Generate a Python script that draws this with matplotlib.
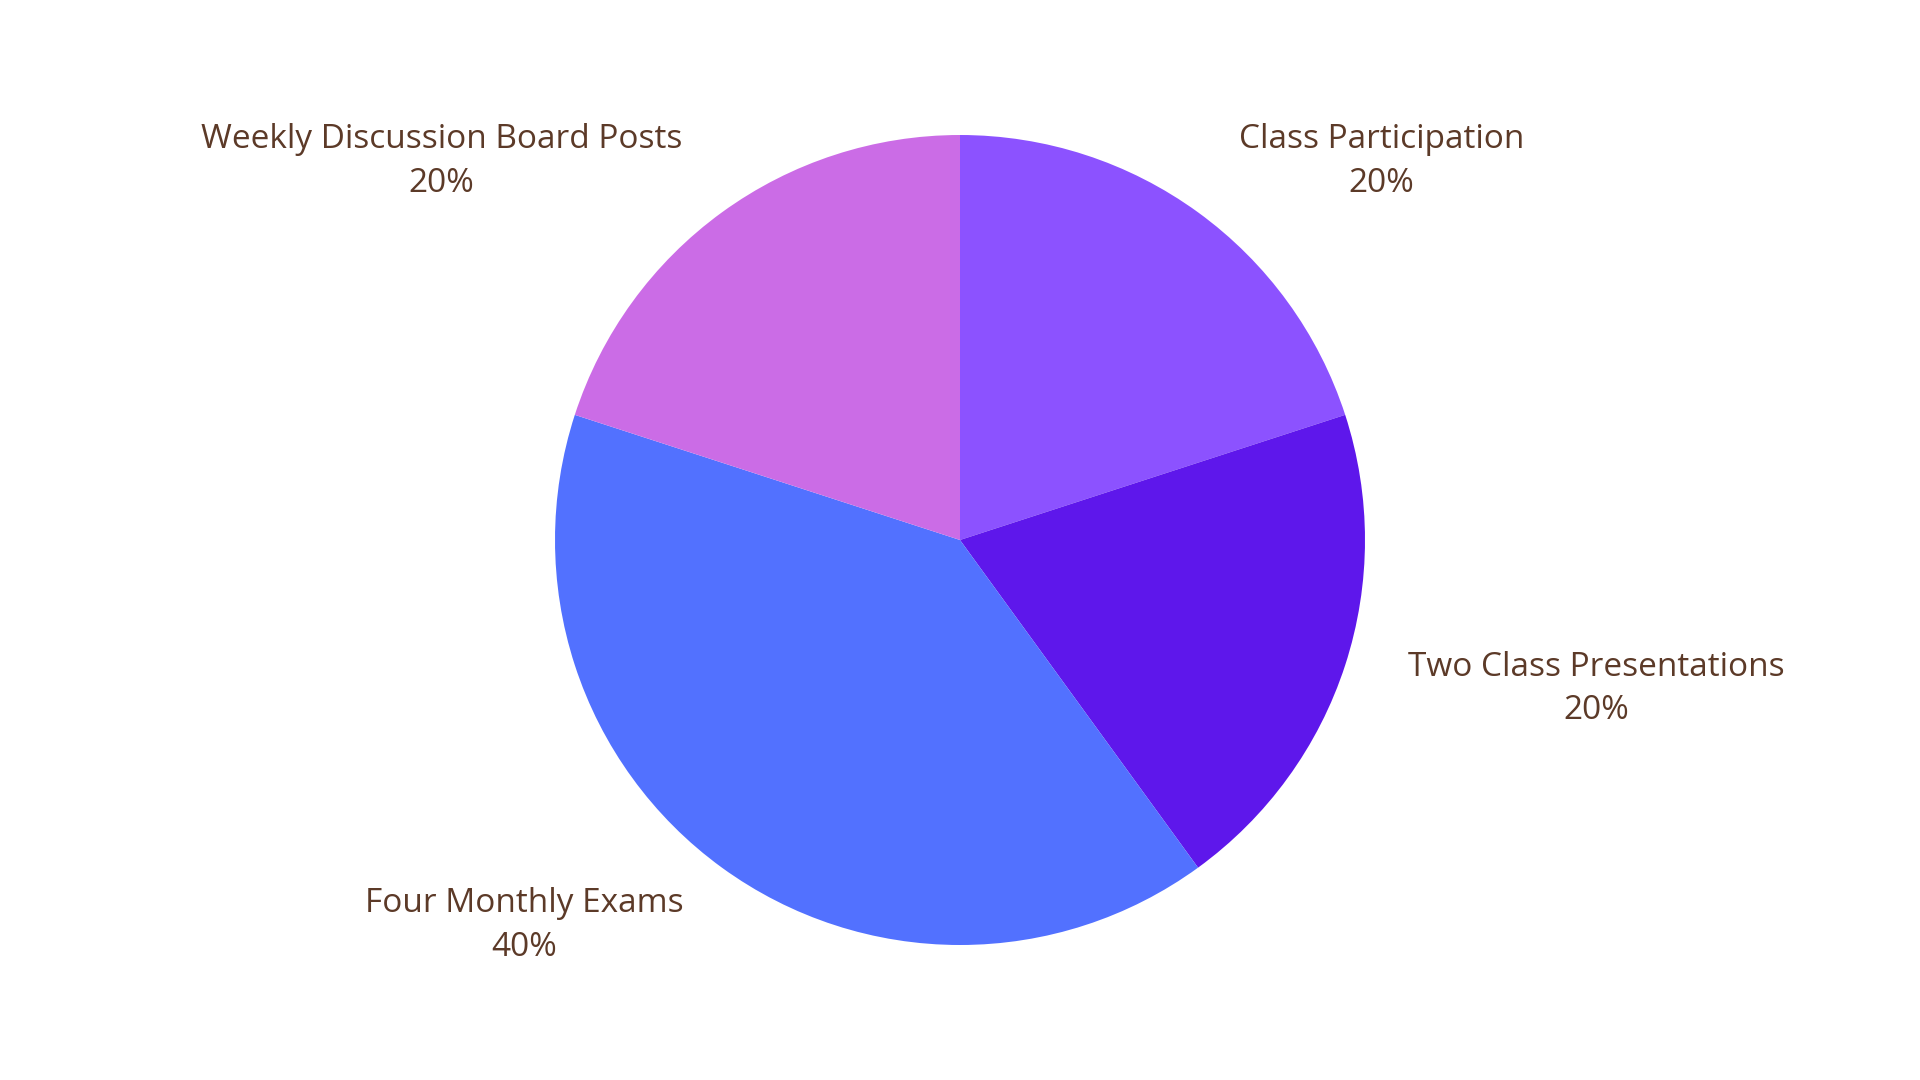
import matplotlib
matplotlib.use("Agg")
import matplotlib.pyplot as plt

categories = ["Class Participation", "Two Class Presentations",
              "Four Monthly Exams", "Weekly Discussion Board Posts"]
shares = [20, 20, 40, 20]
colors = ["#8C52FF", "#5E17EB", "#5271FF", "#CB6CE6"]
# label anchor positions, in pie-radius units
label_pos = [(1.04, 0.935), (1.57, -0.368), (-1.075, -0.952), (-1.28, 0.935)]

TEXT = "#5C3A28"

fig = plt.figure(figsize=(19.2, 10.8), dpi=100)
fig.patch.set_facecolor("white")
ax = fig.add_axes([0, 0, 1, 1])
ax.pie(shares, colors=colors, startangle=90, counterclock=False,
       radius=1.0, wedgeprops={"linewidth": 0})
ax.set_xlim(-960 / 405, 960 / 405)
ax.set_ylim(-540 / 405, 540 / 405)
ax.set_aspect("equal")
ax.axis("off")

for name, val, (x, y) in zip(categories, shares, label_pos):
    ax.text(x, y, f"{name}\n{val}%", ha="center", va="center",
            color=TEXT, fontsize=24, family="Open Sans", linespacing=1.42)

fig.savefig("out.png", dpi=100, facecolor="white")
